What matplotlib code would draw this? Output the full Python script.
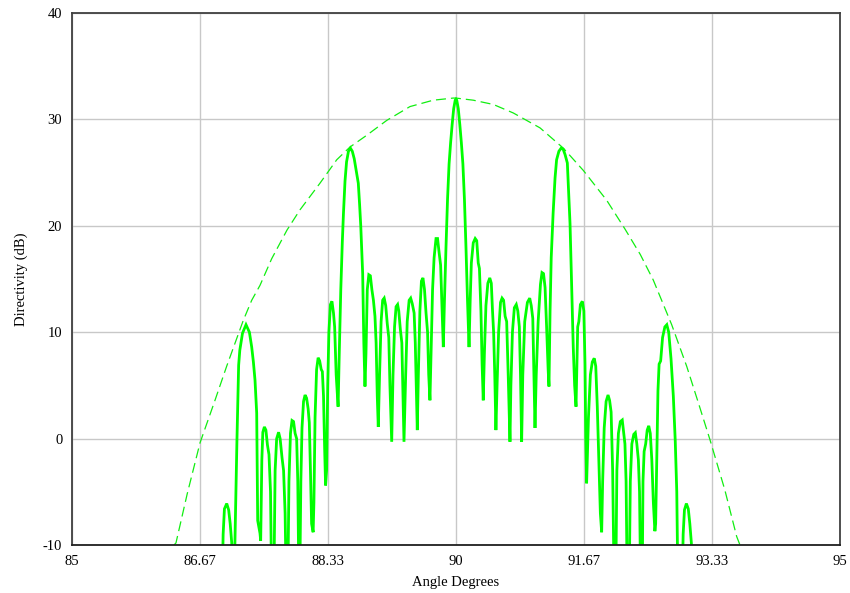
import numpy as np
import matplotlib
matplotlib.use("Agg")
import matplotlib.pyplot as plt

# array pattern, left half (angle deg, directivity dB); values under -10 fall off the axes
pattern_left = [
    (86.955, -14), (86.968, -9), (86.985, -6.6), (87.015, -6.1), (87.04, -6.7), (87.06, -8), (87.08, -9.8), (87.09, -14),
    (87.11, -14), (87.122, -9.5), (87.133, -5.1), (87.148, -0.1), (87.16, 3.6), (87.17, 6.9), (87.185, 8.3), (87.22, 9.9),
    (87.266, 10.7), (87.31, 10.0), (87.34, 8.6), (87.362, 7.2), (87.383, 5.5), (87.405, 2.4), (87.418, -7.7), (87.448, -8.9), (87.457, -9.6),
    (87.472, -2), (87.485, 0.6), (87.505, 1.1), (87.525, 0.8), (87.545, -0.6), (87.565, -1.5), (87.585, -5), (87.6, -14),
    (87.628, -14), (87.645, -3), (87.665, 0), (87.69, 0.6), (87.71, 0), (87.735, -1.8), (87.755, -3), (87.775, -7), (87.79, -14),
    (87.81, -14), (87.825, -4), (87.845, 0.5), (87.865, 1.7), (87.885, 1.6), (87.905, 0.5), (87.925, 0), (87.94, -4), (87.955, -14),
    (87.965, -14), (87.98, -4), (87.995, 1), (88.015, 3.5), (88.035, 4.1), (88.055, 3.8), (88.075, 2.8), (88.09, 1.5), (88.105, -3), (88.12, -8), (88.14, -8.8),
    (88.15, -6), (88.165, 2), (88.185, 6.5), (88.205, 7.6), (88.225, 7.3), (88.245, 6.5), (88.26, 6.3), (88.275, 4), (88.29, -1), (88.302, -4.4),
    (88.315, -3), (88.33, 5), (88.345, 10), (88.365, 12.6), (88.385, 12.9), (88.405, 11.8), (88.42, 10.5), (88.44, 6), (88.465, 3.0),
    (88.48, 8), (88.5, 14), (88.52, 18.5), (88.535, 21.2), (88.555, 24.2), (88.575, 26), (88.6, 27), (88.625, 27.3), (88.65, 27),
    (88.675, 26.3), (88.7, 25.2), (88.728, 24), (88.745, 22), (88.76, 20), (88.785, 15.5), (88.8, 9), (88.815, 4.9),
    (88.828, 8), (88.845, 14), (88.865, 15.4), (88.885, 15.3), (88.905, 14), (88.925, 13), (88.945, 11.5), (88.96, 9), (88.975, 4), (88.988, 1.1),
    (89.005, 6), (89.025, 11), (89.045, 13), (89.065, 13.2), (89.085, 12.5), (89.105, 10.8), (89.125, 9.5), (89.14, 5), (89.163, -0.3),
    (89.18, 6), (89.2, 10.5), (89.22, 12.4), (89.24, 12.6), (89.255, 12), (89.275, 10.3), (89.295, 9), (89.31, 4), (89.323, -0.3),
    (89.345, 6), (89.365, 11), (89.39, 13), (89.41, 13.2), (89.43, 12.7), (89.455, 11.8), (89.47, 9), (89.485, 4), (89.496, 0.8),
    (89.51, 6), (89.53, 12), (89.55, 14.8), (89.57, 15.1), (89.59, 14), (89.61, 11.8), (89.63, 10), (89.645, 6), (89.661, 3.6),
    (89.675, 8), (89.695, 14), (89.715, 17), (89.74, 18.8), (89.76, 18.8), (89.78, 17.5), (89.8, 16.3), (89.815, 13), (89.835, 8.6),
    (89.85, 13), (89.87, 18), (89.89, 22.5), (89.91, 25.8), (89.93, 27.8), (89.95, 29.5), (89.97, 31), (89.99, 31.8), (90.0, 31.9),
]

# array pattern, right half
pattern_right = [
    (90.01, 31.8), (90.03, 31), (90.05, 29.5), (90.07, 27.8), (90.09, 25.8), (90.11, 22.5), (90.13, 18), (90.15, 13), (90.17, 8.6),
    (90.185, 13), (90.2, 16.5), (90.225, 18.4), (90.25, 18.8), (90.27, 18.6), (90.29, 16.5), (90.305, 16), (90.325, 12), (90.34, 7), (90.355, 3.6),
    (90.37, 8), (90.39, 12.5), (90.415, 14.6), (90.44, 15.1), (90.46, 14.6), (90.475, 12.1), (90.49, 10), (90.505, 6), (90.52, 0.8),
    (90.535, 5), (90.555, 10), (90.58, 12.8), (90.6, 13.2), (90.62, 13), (90.64, 11.5), (90.66, 11), (90.68, 6), (90.703, -0.3),
    (90.715, 5), (90.735, 10), (90.76, 12.3), (90.785, 12.6), (90.805, 12), (90.825, 10.5), (90.84, 6), (90.855, -0.3),
    (90.87, 6), (90.895, 11), (90.93, 12.8), (90.96, 13.2), (90.98, 12.5), (91.0, 11.3), (91.015, 6), (91.029, 1.0),
    (91.045, 6), (91.07, 11), (91.1, 14.5), (91.12, 15.6), (91.14, 15.5), (91.16, 14.2), (91.18, 10.5), (91.2, 6.5), (91.211, 4.9),
    (91.225, 12), (91.24, 17), (91.265, 21.2), (91.29, 24.5), (91.31, 26.2), (91.34, 27), (91.37, 27.3), (91.395, 27.2), (91.42, 26.7),
    (91.45, 25.9), (91.465, 23.5), (91.485, 20.2), (91.5, 16), (91.51, 13), (91.527, 8.6), (91.545, 5), (91.563, 3.0),
    (91.575, 7), (91.585, 10.5), (91.6, 11), (91.62, 12.6), (91.645, 12.9), (91.665, 12), (91.68, 7), (91.69, 0), (91.701, -4.2),
    (91.725, 2), (91.75, 6), (91.775, 7.2), (91.8, 7.55), (91.82, 6.8), (91.84, 3), (91.86, -2), (91.88, -7), (91.897, -8.8),
    (91.91, -4), (91.93, 1), (91.955, 3.5), (91.98, 4.1), (92.0, 3.6), (92.02, 2.5), (92.04, -3), (92.06, -14),
    (92.08, -14), (92.095, -3), (92.115, 0.5), (92.14, 1.6), (92.165, 1.75), (92.185, 0.5), (92.2, -0.5), (92.215, -4), (92.23, -14),
    (92.255, -14), (92.27, -4), (92.29, -0.5), (92.315, 0.4), (92.335, 0.55), (92.355, -0.5), (92.375, -2), (92.39, -5), (92.405, -14),
    (92.425, -14), (92.435, -4), (92.45, -1.2), (92.47, -0.5), (92.49, 0.8), (92.51, 1.2), (92.53, 0.5), (92.55, -2), (92.57, -6), (92.59, -8.7),
    (92.6, -8), (92.615, -2), (92.63, 4.5), (92.645, 7), (92.665, 7.3), (92.69, 9.5), (92.72, 10.5), (92.745, 10.7), (92.77, 10),
    (92.8, 7.5), (92.83, 4), (92.855, -0.2), (92.875, -5), (92.89, -14),
    (92.945, -14), (92.958, -9), (92.975, -6.7), (93.0, -6.1), (93.025, -6.6), (93.045, -8), (93.065, -9.8), (93.075, -14),
]

# element envelope (dashed)
envelope = [
    (86.328, -10), (86.354, -9.8), (86.5, -5.2), (86.667, -0.4), (86.862, 3.6), (87.014, 6.8), (87.23, 11.1),
    (87.34, 13.0), (87.448, 14.4), (87.6, 16.9), (87.8, 19.6), (87.969, 21.5), (88.229, 24.0), (88.447, 26.2),
    (88.62, 27.4), (88.837, 28.5), (89.098, 29.9), (89.401, 31.2), (89.704, 31.8), (89.965, 32.0), (90.0, 32.0),
    (90.225, 31.8), (90.486, 31.4), (90.746, 30.6), (91.094, 29.2), (91.397, 27.3), (91.658, 25.2), (91.962, 22.4),
    (92.2, 19.7), (92.4, 17.3), (92.569, 14.9), (92.809, 10.7), (93.004, 6.8), (93.15, 3.5), (93.307, -0.1),
    (93.5, -4.8), (93.655, -9.2), (93.698, -10),
]

x_ticks = [85, 86.67, 88.33, 90, 91.67, 93.33, 95]
x_labels = ["85", "86.67", "88.33", "90", "91.67", "93.33", "95"]
y_ticks = [-10, 0, 10, 20, 30, 40]

plt.rcParams['font.family'] = ['Liberation Serif', 'DejaVu Serif']
plt.rcParams['axes.unicode_minus'] = False

pat = np.array(pattern_left + pattern_right)
env = np.array(envelope)

fig = plt.figure(figsize=(8.5, 5.93), dpi=100)
ax = fig.add_axes([0.0847, 0.0809, 0.9035, 0.8973])

ax.plot(env[:, 0], env[:, 1], color='#11ee11', lw=0.9, dashes=(8, 4))
ax.plot(pat[:, 0], pat[:, 1], color='#00ff00', lw=2.0, solid_joinstyle='miter')

ax.set_xlim(85, 95)
ax.set_ylim(-10, 40)
ax.set_xticks(x_ticks)
ax.set_xticklabels(x_labels)
ax.set_yticks(y_ticks)
ax.tick_params(length=0, pad=7, labelsize=10.5, colors='black')
ax.grid(True, color='#c8c8c8', lw=1.0)
ax.set_axisbelow(True)
for s in ax.spines.values():
    s.set_color('#404040')
    s.set_linewidth(1.3)
ax.spines['bottom'].set_color('#202020')

ax.set_xlabel('Angle Degrees', fontsize=10.5, labelpad=6)
ax.set_ylabel('Directivity (dB)', fontsize=10.5, labelpad=11)

fig.savefig('out.png', dpi=100)
